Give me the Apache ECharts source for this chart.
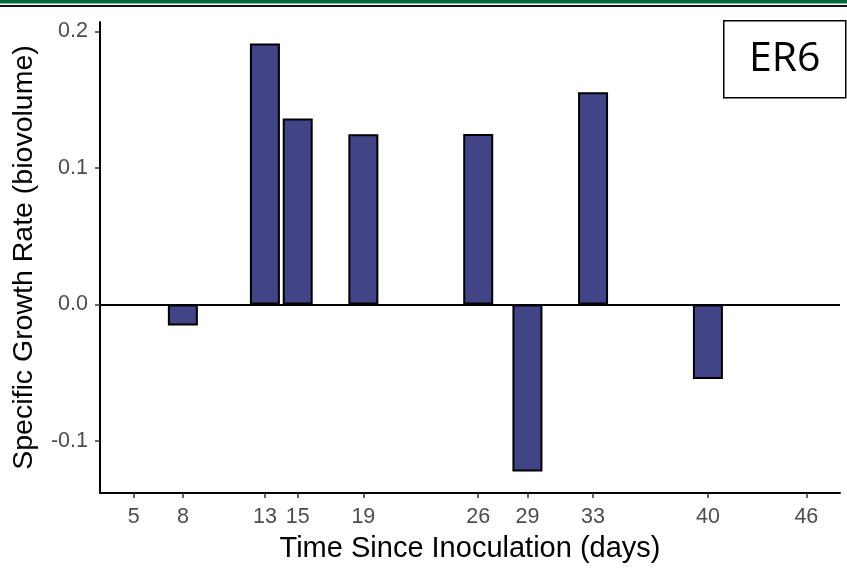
<!DOCTYPE html>
<html>
<head>
<meta charset="utf-8">
<title>ER6 specific growth rate</title>
<script src="https://cdn.jsdelivr.net/npm/echarts@6/dist/echarts.min.js"></script>
<style>
  html, body { margin: 0; padding: 0; background: #ffffff; }
  #chart { width: 847px; height: 568px; }
</style>
</head>
<body>
<div id="chart"></div>
<script>
// Sampling days and specific growth rate (biovolume) for the ER6 culture
const days = [8, 13, 15, 19, 26, 29, 33, 40];
const growthRate = [-0.0153, 0.1913, 0.1363, 0.1247, 0.1249, -0.1224, 0.1556, -0.0545];
// Days shown as tick labels on the time axis
const dayTicks = [5, 8, 13, 15, 19, 26, 29, 33, 40, 46];
const rateTicks = [-0.1, 0.0, 0.1, 0.2];
const panelLabel = 'ER6';

const chart = echarts.init(document.getElementById('chart'), null, { renderer: 'canvas' });

const barData = days.map((d, i) => [d, growthRate[i]]);

const tickText = '#4d4d4d';
const font = 'Liberation Sans, Arial, Helvetica, sans-serif';

chart.setOption({
  backgroundColor: '#ffffff',
  animation: false,
  grid: { left: 100, right: 7, top: 22, bottom: 74, containLabel: false },
  xAxis: {
    type: 'value',
    min: 2.95,
    max: 48.05,
    name: 'Time Since Inoculation (days)',
    nameLocation: 'middle',
    nameGap: 41,
    nameTextStyle: { color: '#000000', fontSize: 29, fontFamily: font },
    axisLine: { show: true, onZero: false, lineStyle: { color: '#000000', width: 2 } },
    axisTick: { show: true, length: 5, customValues: dayTicks, lineStyle: { color: '#333333', width: 1.5 } },
    axisLabel: {
      customValues: dayTicks,
      color: tickText, fontSize: 21.5, fontFamily: font, margin: 13,
      formatter: v => String(v)
    },
    splitLine: { show: false }
  },
  yAxis: {
    type: 'value',
    min: -0.1381,
    max: 0.207,
    name: 'Specific Growth Rate (biovolume)',
    nameLocation: 'middle',
    nameGap: 61,
    nameRotate: 90,
    nameTextStyle: { color: '#000000', fontSize: 28.5, fontFamily: font },
    axisLine: { show: true, lineStyle: { color: '#000000', width: 2 } },
    axisTick: { show: true, length: 5, customValues: rateTicks, lineStyle: { color: '#333333', width: 1.5 } },
    axisLabel: {
      customValues: rateTicks,
      color: tickText, fontSize: 21.5, fontFamily: font, margin: 12,
      formatter: v => v.toFixed(1)
    },
    splitLine: { show: false }
  },
  series: [{
    type: 'bar',
    data: barData,
    barWidth: 30,
    itemStyle: { color: '#414487', borderColor: '#000000', borderWidth: 2 },
    markLine: {
      silent: true,
      symbol: ['none', 'none'],
      label: { show: false },
      lineStyle: { color: '#000000', width: 1.8, type: 'solid' },
      data: [{ yAxis: 0 }]
    }
  }],
  graphic: [
    { type: 'rect', left: 0, top: 0, shape: { width: 847, height: 3.5 }, style: { fill: '#00693e' } },
    { type: 'rect', left: 0, top: 5, shape: { width: 847, height: 2 }, style: { fill: '#111111' } },
    {
      type: 'group', left: 723, top: 20,
      children: [
        { type: 'rect', shape: { x: 0, y: 0, width: 122, height: 77 },
          style: { fill: '#ffffff', stroke: '#000000', lineWidth: 1.5 } },
        { type: 'text', x: 61, y: 39,
          style: { text: panelLabel, fill: '#000000', fontSize: 41,
                   fontFamily: 'Liberation Sans Narrow, Open Sans, sans-serif',
                   align: 'center', verticalAlign: 'middle' } }
      ]
    }
  ]
});
</script>
</body>
</html>
